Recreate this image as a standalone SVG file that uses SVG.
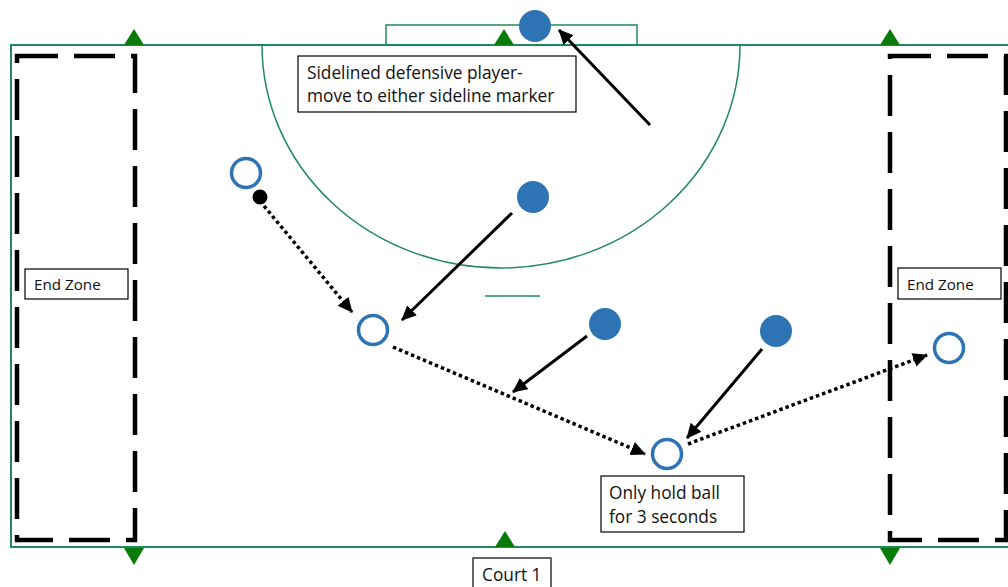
<svg xmlns="http://www.w3.org/2000/svg" width="1008" height="587" viewBox="0 0 1008 587">
<style>
.court{fill:none;stroke:#1e8a5e;stroke-width:2}
.thin{fill:none;stroke:#1e8a5e;stroke-width:1.5}
.mark{fill:#087a08}
.zone{fill:none;stroke:#000;stroke-width:4.5;stroke-dasharray:41 16}
.box{fill:#fff;stroke:#000;stroke-width:1.2}
.lbl{font-family:"Open Sans","Liberation Sans",sans-serif;font-size:17.3px;fill:#111}
.lbl2{font-family:"Open Sans","Liberation Sans",sans-serif;font-size:15.2px;fill:#111}
.def{fill:#2e74b5}
.att{fill:#fff;stroke:#2e74b5;stroke-width:3.5}
.run{fill:none;stroke:#000;stroke-width:3;marker-end:url(#ah)}
.pass{fill:none;stroke:#000;stroke-width:3.5;stroke-dasharray:3.5 3;marker-end:url(#ah)}
</style>
<defs>
<marker id="ah" markerUnits="userSpaceOnUse" markerWidth="16" markerHeight="16" refX="14" refY="7" orient="auto">
<path d="M0,0 L15,7 L0,14 Z" fill="#000"/>
</marker>
</defs>
<rect width="1008" height="587" fill="#fff"/>
<g id="court">
<rect class="court" x="11" y="45" width="1010" height="502"/>
<rect class="thin" x="386" y="25" width="251" height="20"/>
<path class="thin" d="M262,45 A239,223 0 0 0 740,45"/>
<line class="thin" x1="485" y1="296" x2="540" y2="296"/>
<polygon class="mark" points="124,45 144,45 134,29"/>
<polygon class="mark" points="494,45 514,45 504,29"/>
<polygon class="mark" points="880,45 900,45 890,29"/>
<polygon class="mark" points="124,548 144,548 134,565"/>
<polygon class="mark" points="495,547 515,547 505,531"/>
<polygon class="mark" points="880,548 900,548 890,565"/>
</g>
<g id="endzone-left">
<rect class="zone" x="17" y="56" width="118" height="484"/>
<rect class="box" x="25" y="269" width="103" height="30"/>
<text class="lbl2" x="34" y="290">End Zone</text>
</g>
<g id="endzone-right">
<rect class="zone" x="890" y="56" width="116" height="484"/>
<rect class="box" x="898" y="268" width="103" height="31"/>
<text class="lbl2" x="907" y="290">End Zone</text>
</g>
<g id="connectors">
<line class="run" x1="650" y1="125" x2="559" y2="30"/>
<line class="run" x1="512" y1="213" x2="402" y2="320"/>
<line class="run" x1="587" y1="336" x2="513" y2="392"/>
<line class="run" x1="762" y1="349" x2="687" y2="438"/>
<line class="pass" x1="264" y1="206" x2="352" y2="312"/>
<line class="pass" x1="393" y1="347" x2="645" y2="454"/>
<line class="pass" x1="688" y1="444" x2="927" y2="355"/>
</g>
<g id="defender-top"><circle class="def" cx="535" cy="26" r="16"/></g>
<g id="defender-1"><circle class="def" cx="533" cy="197" r="16"/></g>
<g id="defender-2"><circle class="def" cx="605" cy="324" r="16"/></g>
<g id="defender-3"><circle class="def" cx="776" cy="331" r="16"/></g>
<g id="attacker-1"><circle class="att" cx="246" cy="173" r="14.5"/></g>
<g id="ball"><circle cx="260" cy="197" r="7.5" fill="#000"/></g>
<g id="attacker-2"><circle class="att" cx="373" cy="330" r="14.5"/></g>
<g id="attacker-3"><circle class="att" cx="667" cy="454" r="14.5"/></g>
<g id="attacker-4"><circle class="att" cx="949" cy="348" r="14.5"/></g>
<g id="note-sidelined">
<rect class="box" x="298" y="56" width="278" height="56"/>
<text class="lbl" x="307" y="79">Sidelined defensive player-</text>
<text class="lbl" x="307" y="102">move to either sideline marker</text>
</g>
<g id="note-hold">
<rect class="box" x="601" y="476" width="143" height="56"/>
<text class="lbl" x="609" y="499">Only hold ball</text>
<text class="lbl" x="609" y="523">for 3 seconds</text>
</g>
<g id="court-label">
<rect class="box" x="473" y="558" width="78" height="35"/>
<text class="lbl" x="482" y="581">Court 1</text>
</g>
</svg>
